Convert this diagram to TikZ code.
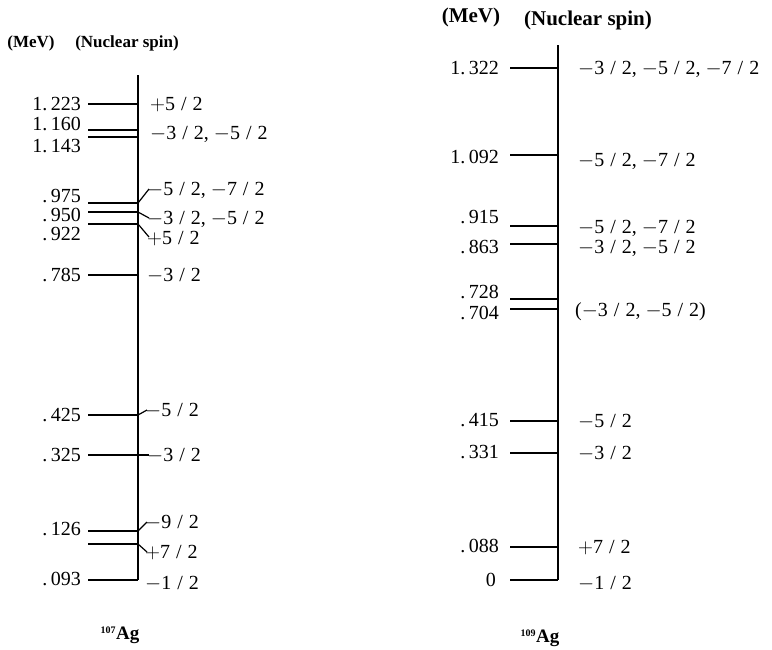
\documentclass[tikz,border=0pt]{standalone}
\usepackage{fontspec}
\setmainfont{Liberation Serif}
\newcommand{\fr}[2]{#1\hspace{0.3em}/\hspace{0.3em}#2}
\newcommand{\mn}{$-$}
\newcommand{\pl}{$+$}
\begin{document}
\begin{tikzpicture}[x=1pt,y=-1pt,
  num/.style={anchor=base east, inner sep=0pt, yshift=-6.7pt, font=\fontsize{20}{20}\selectfont},
  spin/.style={anchor=base west, inner sep=0pt, yshift=-6.7pt, font=\fontsize{20}{20}\selectfont},
  lvl/.style={line width=1.9pt},
  axisline/.style={line width=2.8pt},
  conn/.style={line width=1.2pt},
  hdrA/.style={inner sep=0pt, font=\bfseries\fontsize{17}{17}\selectfont},
  hdrB/.style={inner sep=0pt, font=\bfseries\fontsize{21}{21}\selectfont},
  iso/.style={inner sep=0pt, font=\bfseries\fontsize{19}{19}\selectfont}]
\useasboundingbox (0,0) rectangle (772,649);

% ---------------- left: 107Ag ----------------
\node[hdrA] (hL1) at (31,43) {(MeV)};
\node[hdrA] (hL2) at (127,43) {(Nuclear spin)};

\coordinate (LT) at (138,75);
\coordinate (LB) at (138,580);
\draw[axisline] (LT) -- (LB);

\foreach \n/\y in {a/104,b/130,c/137,d/203,e/212,f/224,g/275,h/415,i/455,j/531,k/544,l/580}{
  \coordinate (L\n0) at (88,\y);
  \coordinate (L\n1) at (138,\y);
  \draw[lvl] (L\n0) -- (L\n1);
}

\node[num] (nLa) at (81,104) {1.\,223};
\node[num] (nLb) at (81,124) {1.\,160};
\node[num] (nLc) at (81,146) {1.\,143};
\node[num] (nLd) at (81,196) {.\,975};
\node[num] (nLe) at (81,215) {.\,950};
\node[num] (nLf) at (81,234) {.\,922};
\node[num] (nLg) at (81,275) {.\,785};
\node[num] (nLh) at (81,415) {.\,425};
\node[num] (nLi) at (81,455) {.\,325};
\node[num] (nLj) at (81,529) {.\,126};
\node[num] (nLl) at (81,579) {.\,093};

\node[spin] (sLa) at (150,104) {\pl\fr{5}{2}};
\node[spin] (sLb) at (150,133) {\mn\fr{3}{2}, \mn\fr{5}{2}};
\node[spin] (sLd) at (147,189) {\mn\fr{5}{2}, \mn\fr{7}{2}};
\node[spin] (sLe) at (147,218) {\mn\fr{3}{2}, \mn\fr{5}{2}};
\node[spin] (sLf) at (147,238) {\pl\fr{5}{2}};
\node[spin] (sLg) at (147,275) {\mn\fr{3}{2}};
\node[spin] (sLh) at (145,410) {\mn\fr{5}{2}};
\node[spin] (sLi) at (147,455) {\mn\fr{3}{2}};
\node[spin] (sLj) at (145,522) {\mn\fr{9}{2}};
\node[spin] (sLk) at (145,552) {\pl\fr{7}{2}};
\node[spin] (sLl) at (145,583) {\mn\fr{1}{2}};

\coordinate (cLd) at (149,189);
\coordinate (cLe) at (149,218);
\coordinate (cLf) at (149,237);
\coordinate (cLh) at (147,410);
\coordinate (cLi) at (149,455);
\coordinate (cLj) at (147,522);
\coordinate (cLk) at (147,552);
\draw[conn] (Ld1) -- (cLd);
\draw[conn] (Le1) -- (cLe);
\draw[conn] (Lf1) -- (cLf);
\draw[conn] (Lh1) -- (cLh);
\draw[conn] (Li1) -- (cLi);
\draw[conn] (Lj1) -- (cLj);
\draw[conn] (Lk1) -- (cLk);

\node[iso] (isoL) at (120,635) {\textsuperscript{\fontsize{10}{10}\selectfont 107}Ag};

% ---------------- right: 109Ag ----------------
\node[hdrB] (hR1) at (471,17) {(MeV)};
\node[hdrB] (hR2) at (588,20) {(Nuclear spin)};

\coordinate (RT) at (558,45);
\coordinate (RB) at (558,580);
\draw[axisline] (RT) -- (RB);

\foreach \n/\y in {a/68,b/155,c/226,d/244,e/299,f/309,g/421,h/453,i/547,j/580}{
  \coordinate (R\n0) at (510,\y);
  \coordinate (R\n1) at (558,\y);
  \draw[lvl] (R\n0) -- (R\n1);
}

\node[num] (nRa) at (499,68) {1.\,322};
\node[num] (nRb) at (499,157) {1.\,092};
\node[num] (nRc) at (499,217) {.\,915};
\node[num] (nRd) at (499,247) {.\,863};
\node[num] (nRe) at (499,292) {.\,728};
\node[num] (nRf) at (499,313) {.\,704};
\node[num] (nRg) at (499,420) {.\,415};
\node[num] (nRh) at (499,452) {.\,331};
\node[num] (nRi) at (499,546) {.\,088};
\node[num] (nRj) at (496,580) {0};

\node[spin] (sRa) at (578,68) {\mn\fr{3}{2}, \mn\fr{5}{2}, \mn\fr{7}{2}};
\node[spin] (sRb) at (578,160) {\mn\fr{5}{2}, \mn\fr{7}{2}};
\node[spin] (sRc) at (578,227) {\mn\fr{5}{2}, \mn\fr{7}{2}};
\node[spin] (sRd) at (578,247) {\mn\fr{3}{2}, \mn\fr{5}{2}};
\node[spin] (sRe) at (575,310) {(\mn\fr{3}{2}, \mn\fr{5}{2})};
\node[spin] (sRg) at (578,421) {\mn\fr{5}{2}};
\node[spin] (sRh) at (578,453) {\mn\fr{3}{2}};
\node[spin] (sRi) at (578,547) {\pl\fr{7}{2}};
\node[spin] (sRj) at (578,583) {\mn\fr{1}{2}};

\node[iso] (isoR) at (540,638) {\textsuperscript{\fontsize{10}{10}\selectfont 109}Ag};
\end{tikzpicture}
\end{document}
